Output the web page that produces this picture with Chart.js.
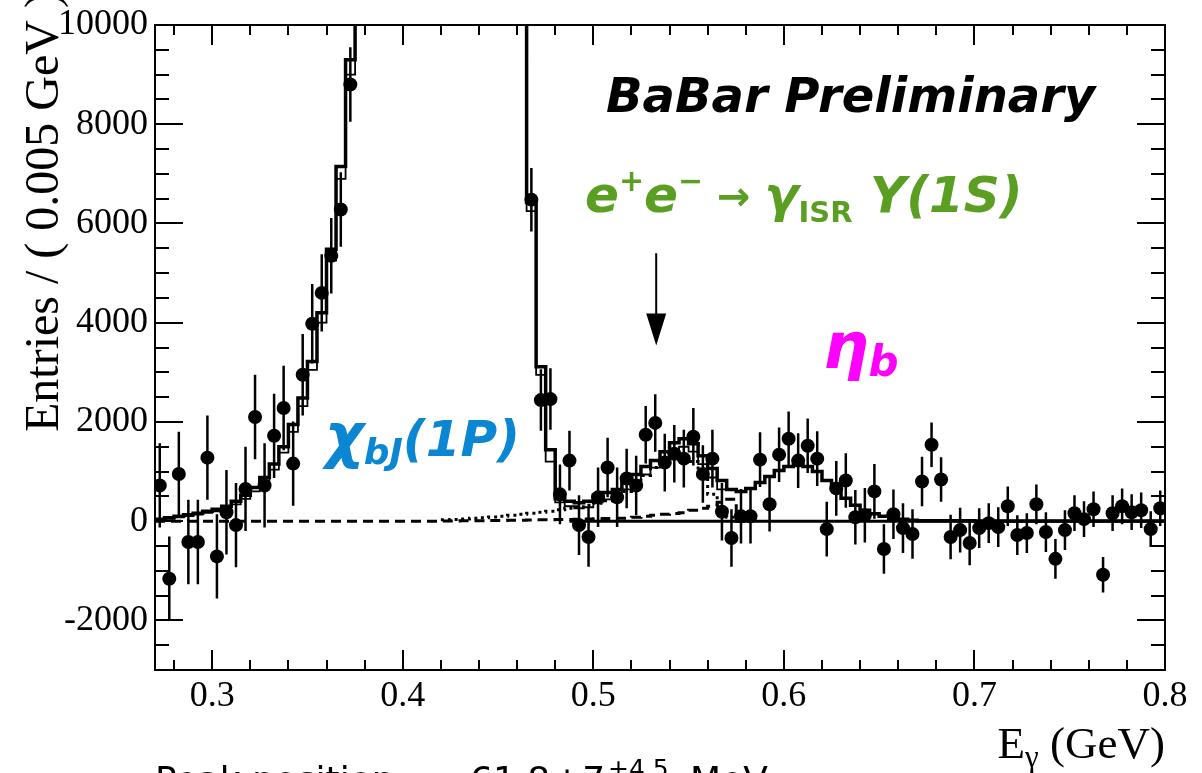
<!DOCTYPE html>
<html>
<head>
<meta charset="utf-8">
<script src="https://cdn.jsdelivr.net/npm/chart.js@4.4.1/dist/chart.umd.min.js"></script>
<style>
  html, body { margin: 0; padding: 0; background: #fff; }
  canvas { display: block; }
</style>
</head>
<body>
<canvas id="myChart" width="1202" height="773"></canvas>
<script>
// binning of the E_gamma histogram
const xMin = 0.27
const xMax = 0.8
const binWidth = 0.005
const yMin = -3000
const yMax = 10000
const xTicks = [0.3, 0.4, 0.5, 0.6, 0.7, 0.8]
const yTicks = [-2000, 0, 2000, 4000, 6000, 8000, 10000]

// data points (one per bin, 0.27 .. 0.80), bins 21-38 are off scale
const entries = [
    720, -1160, 950, -420, -420, 1280, -710, 180, -80, 650,
    2100, 720, 1720, 2280, 1160, 2950, 3980, 4600, 5350, 6280,
    8800, 11500, 14000, 17000, 20000, 23000, 26000, 28000, 29000, 28500,
    27000, 25000, 23000, 21000, 19000, 17000, 15000, 13500, 11500, 6480,
    2440, 2460, 540, 1220, -80, -320, 480, 1080, 480, 860,
    720, 1740, 1980, 1180, 1360, 1260, 1700, 950, 1260, 190,
    -340, 100, 100, 1240, 340, 1340, 1660, 1220, 1520, 1260,
    -160, 660, 820, 80, 120, 600, -560, 140, -140, -260,
    800, 1540, 840, -320, -180, -440, -140, -40, -120, 300,
    -280, -240, 340, -220, -760, -180, 160, 40, 240, -1080,
    160, 300, 180, 220, -160, 260
]
const errors = [
    850, 850, 850, 850, 850, 850, 850, 850, 850, 850,
    850, 850, 850, 850, 850, 820, 800, 780, 760, 750,
    750, 700, 700, 700, 700, 700, 700, 700, 700, 700,
    700, 700, 700, 700, 700, 700, 700, 700, 700, 640,
    620, 620, 600, 600, 600, 600, 600, 600, 600, 600,
    600, 580, 580, 580, 580, 580, 580, 580, 580, 580,
    580, 550, 550, 550, 550, 550, 550, 550, 550, 550,
    550, 550, 550, 550, 550, 550, 500, 500, 500, 500,
    500, 450, 450, 450, 450, 450, 400, 400, 400, 400,
    400, 400, 400, 400, 400, 400, 360, 360, 360, 360,
    360, 360, 360, 360, 360, 360
]

// total fit (thick histogram)
const totalFit = [
    40, 70, 100, 130, 160, 200, 240, 300, 400, 520,
    680, 880, 1150, 1500, 1950, 2480, 3220, 4200, 5480, 7150,
    9300, 12000, 15000, 18500, 22000, 25000, 27500, 29000, 29500, 28500,
    27000, 25000, 23000, 21000, 19000, 17000, 15000, 13000, 11000, 6420,
    3110, 1440, 450, 400, 370, 400, 520, 580, 640, 800,
    940, 1100, 1220, 1400, 1580, 1660, 1560, 1320, 1060, 820,
    640, 600, 660, 780, 900, 1020, 1100, 1140, 1100, 1000,
    820, 660, 460, 320, 220, 150, 100, 60, 40, 20,
    10, 10, 8, 8, 6, 6, 5, 5, 4, 4,
    3, 3, 3, 2, 2, 2, 2, 2, 1, 1,
    1, 1, 1, 1, 1, 1
]
// fit without signal (thin histogram), bins 0-60
const altFit = [
    20, 45, 75, 100, 130, 165, 200, 250, 340, 450,
    600, 790, 1040, 1380, 1800, 2320, 3050, 4000, 5250, 6900,
    9000, 11700, 14700, 18200, 21700, 24700, 27200, 28700, 29200, 28200,
    26700, 24700, 22700, 20700, 18700, 16700, 14700, 12700, 10700, 6250,
    2950, 1200, 380, 300, 260, 280, 380, 440, 500, 640,
    780, 940, 1080, 1250, 1430, 1500, 1400, 1150, 880, 640,
    640
]
// ISR Y(1S) component (dotted), starts at bin 30
const isrFirstBin = 30
const isrComponent = [
    30, 35, 45, 60, 70, 85, 100, 120, 140, 160,
    180, 200, 230, 260, 290, 320, 360, 410, 480, 600,
    760, 920, 1080, 1260, 1360, 1340, 1200, 880, 540, 240,
    80, 20, 0
]
// dashed component, bins 0-61
const dashedComponent = [
    0, 0, 0, 0, 0, 0, 0, 0, 0, 0,
    0, 0, 0, 0, 0, 0, 0, 0, 0, 0,
    0, 0, 0, 0, 0, 0, 0, 0, 0, 0,
    5, 5, 10, 10, 10, 15, 15, 20, 20, 25,
    30, 30, 35, 35, 40, 45, 50, 55, 60, 60,
    80, 100, 120, 140, 155, 170, 220, 260, 300, 380,
    440, 0
]
const zeroLineRange = [0.4875, 0.8]
const arrowMark = { x: 0.533, top: 5400, tip: 3540 }

const binLow = i => xMin + i * binWidth
const binCenter = i => xMin + (i + 0.5) * binWidth

function stepData(values, first = 0) {
    const pts = values.map((v, i) => ({ x: binLow(first + i), y: v }))
    pts.push({ x: binLow(first + values.length), y: values[values.length - 1] })
    return pts
}

const pointData = entries.map((v, i) => ({ x: binCenter(i), y: v }))
const errorData = []
entries.forEach((v, i) => {
    errorData.push({ x: binCenter(i), y: v - errors[i] })
    errorData.push({ x: binCenter(i), y: v + errors[i] })
    errorData.push({ x: binCenter(i), y: null })
})

function drawParts(ctx, x, y, parts, align) {
    let w = 0
    parts.forEach(p => { ctx.font = p[1]; w += ctx.measureText(p[0]).width })
    let cx = align === 'right' ? x - w : x
    parts.forEach(p => {
        ctx.font = p[1]
        ctx.fillStyle = p[3] || '#000'
        ctx.fillText(p[0], cx, y + (p[2] || 0))
        cx += ctx.measureText(p[0]).width
    })
}

const serif = '"Liberation Serif", "Times New Roman", serif'
const sans = '"DejaVu Sans", sans-serif'
const green = '#5b9f22'
const magenta = '#ff00ff'
const blue = '#0a86d2'

const rootFrame = {
    id: 'rootFrame',
    afterDraw(chart) {
        const { ctx, chartArea: a, scales: { x, y } } = chart
        ctx.save()
        ctx.strokeStyle = '#000'
        ctx.lineWidth = 2
        ctx.strokeRect(a.left, a.top, a.right - a.left, a.bottom - a.top)

        ctx.beginPath()
        for (let v = yMin + 500; v < yMax; v += 500) {
            const py = Math.round(y.getPixelForValue(v))
            const len = yTicks.includes(v) ? 28 : 14
            ctx.moveTo(a.left, py); ctx.lineTo(a.left + len, py)
            ctx.moveTo(a.right, py); ctx.lineTo(a.right - len, py)
        }
        for (let k = 14; k < 40; k++) {
            const v = k * 0.02
            const px = Math.round(x.getPixelForValue(v))
            const len = k % 5 === 0 ? 20 : 10
            ctx.moveTo(px, a.bottom); ctx.lineTo(px, a.bottom - len)
            ctx.moveTo(px, a.top); ctx.lineTo(px, a.top + len)
        }
        ctx.stroke()

        // arrow pointing at the ISR peak
        const ax = x.getPixelForValue(arrowMark.x)
        const aTop = y.getPixelForValue(arrowMark.top)
        const aTip = y.getPixelForValue(arrowMark.tip)
        ctx.beginPath()
        ctx.moveTo(ax, aTop); ctx.lineTo(ax, aTip - 20)
        ctx.stroke()
        ctx.beginPath()
        ctx.moveTo(ax - 10, aTip - 32); ctx.lineTo(ax + 10, aTip - 32); ctx.lineTo(ax, aTip)
        ctx.closePath()
        ctx.fillStyle = '#000'
        ctx.fill()

        ctx.textBaseline = 'alphabetic'
        ctx.textAlign = 'left'

        // axis titles
        ctx.save()
        ctx.translate(58, 432)
        ctx.rotate(-Math.PI / 2)
        ctx.font = '48px ' + serif
        ctx.fillStyle = '#000'
        ctx.fillText('Entries / ( 0.005 GeV )', 0, 0)
        ctx.restore()
        drawParts(ctx, a.right, 758, [
            ['E', '45px ' + serif, 0],
            ['γ', '31px ' + serif, 9],
            [' (GeV)', '45px ' + serif, 0]
        ], 'right')

        // labels
        drawParts(ctx, 606, 112, [['BaBar Preliminary', 'italic bold 48px ' + sans, 0]])
        drawParts(ctx, 585, 212, [
            ['e', 'italic bold 50px ' + sans, 0, green],
            ['+', 'bold 30px ' + sans, -21, green],
            ['e', 'italic bold 50px ' + sans, 0, green],
            ['−', 'bold 30px ' + sans, -21, green],
            [' → ', 'bold 40px ' + sans, -2, green],
            ['γ', 'italic bold 50px ' + sans, 0, green],
            ['ISR', 'bold 29px ' + sans, 10, green],
            [' Υ(1S)', 'italic bold 50px ' + sans, 0, green]
        ])
        drawParts(ctx, 823, 368, [
            ['η', 'italic bold 64px ' + sans, 0, magenta],
            ['b', 'italic bold 42px ' + sans, 8, magenta]
        ])
        drawParts(ctx, 325, 456, [
            ['χ', 'italic bold 60px ' + sans, 0, blue],
            ['bJ', 'italic bold 36px ' + sans, 8, blue],
            ['(1P)', 'italic bold 50px ' + sans, 0, blue]
        ])
        // fit result, mostly below the picture edge
        ctx.fillStyle = '#000'
        ctx.font = '36px ' + sans
        ctx.fillText('Peak position:', 155, 792)
        ctx.fillText('61.8', 470, 792)
        ctx.fillText('±7', 552, 792)
        ctx.font = '25px ' + sans
        ctx.fillText('+4.5', 608, 777)
        ctx.fillText('−6.0', 608, 804)
        ctx.font = '36px ' + sans
        ctx.fillText('MeV', 690, 792)
        ctx.restore()
    }
}

const ctx = document.getElementById('myChart').getContext('2d')

const myChart = new Chart(ctx, {
    type: 'line',
    data: {
        datasets: [
            {
                label: 'Data',
                data: pointData,
                showLine: false,
                pointRadius: 7,
                pointBackgroundColor: '#000',
                pointBorderWidth: 0
            },
            {
                label: 'Errors',
                data: errorData,
                borderColor: '#000',
                borderWidth: 2.5,
                pointRadius: 0,
                spanGaps: false
            },
            {
                label: 'Total fit',
                data: stepData(totalFit),
                stepped: 'before',
                borderColor: '#000',
                borderWidth: 3.5,
                pointRadius: 0
            },
            {
                label: 'Fit without signal',
                data: stepData(altFit),
                stepped: 'before',
                borderColor: '#000',
                borderWidth: 1.8,
                pointRadius: 0
            },
            {
                label: 'ISR',
                data: stepData(isrComponent, isrFirstBin),
                stepped: 'before',
                borderColor: '#000',
                borderWidth: 3,
                borderDash: [3, 4],
                pointRadius: 0
            },
            {
                label: 'Dashed component',
                data: stepData(dashedComponent),
                stepped: 'before',
                borderColor: '#000',
                borderWidth: 3,
                borderDash: [10, 6],
                pointRadius: 0
            },
            {
                label: 'Zero',
                data: zeroLineRange.map(v => ({ x: v, y: 0 })),
                borderColor: '#000',
                borderWidth: 3,
                pointRadius: 0
            }
        ]
    },
    options: {
        responsive: false,
        animation: false,
        devicePixelRatio: 1,
        layout: { padding: { top: 20, right: 37, left: 0, bottom: 0 } },
        plugins: { legend: { display: false }, tooltip: { enabled: false } },
        scales: {
            x: {
                type: 'linear',
                min: xMin,
                max: xMax,
                grid: { display: false, drawTicks: false },
                border: { display: false },
                afterBuildTicks: s => { s.ticks = xTicks.map(v => ({ value: v })) },
                afterFit: s => { s.height = 103 },
                ticks: {
                    font: { family: serif, size: 36, lineHeight: 1 },
                    color: '#000',
                    padding: 9,
                    maxRotation: 0,
                    autoSkip: false,
                    callback: v => v.toFixed(1)
                }
            },
            y: {
                type: 'linear',
                min: yMin,
                max: yMax,
                grid: { display: false, drawTicks: false },
                border: { display: false },
                afterBuildTicks: s => { s.ticks = yTicks.map(v => ({ value: v })) },
                afterFit: s => { s.width = 155 },
                ticks: {
                    font: { family: serif, size: 36, lineHeight: 1 },
                    color: '#000',
                    padding: 7,
                    autoSkip: false,
                    callback: v => String(v)
                }
            }
        }
    },
    plugins: [rootFrame]
})
</script>
</body>
</html>
